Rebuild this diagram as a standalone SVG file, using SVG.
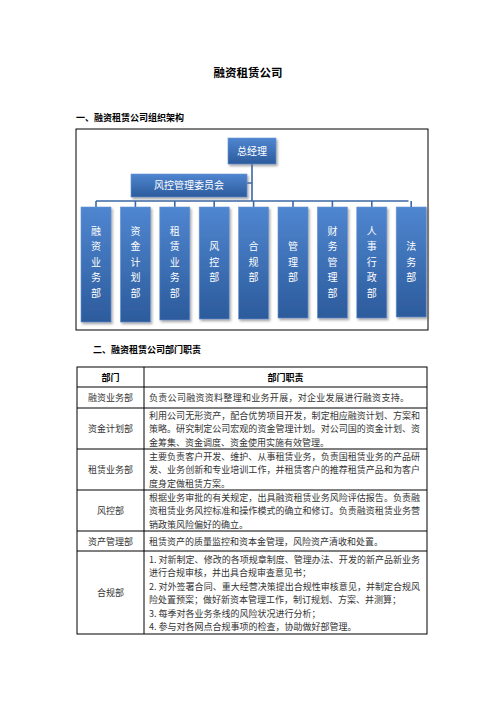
<svg xmlns="http://www.w3.org/2000/svg" width="496" height="702" viewBox="0 0 496 702">
<defs>
<linearGradient id="bg" x1="0" y1="0" x2="0" y2="1">
<stop offset="0" stop-color="#4f86d0"/>
<stop offset="1" stop-color="#2c5b9c"/>
</linearGradient>
<filter id="sh" x="-20%" y="-20%" width="150%" height="150%">
<feDropShadow dx="1.5" dy="2" stdDeviation="1.2" flood-color="#6a6a6a" flood-opacity="0.55"/>
</filter>
<style>
text{font-family:"Noto Sans CJK SC","Noto Sans",sans-serif;}
.box{fill:url(#bg);stroke:#6a95d4;stroke-width:0.6;filter:url(#sh);}
.bt{fill:#ffffff;font-size:10px;text-anchor:middle;}
.conn{stroke:#3b68a6;stroke-width:1.6;fill:none;}
.h{font-size:9px;font-weight:bold;fill:#000;}
.t{font-size:9px;fill:#333;}
.tc{font-size:9px;fill:#333;text-anchor:middle;}
.th{font-size:9px;font-weight:bold;fill:#000;text-anchor:middle;}
.grid{stroke:#000;stroke-width:1;fill:none;}
</style>
</defs>
<rect width="496" height="702" fill="#ffffff"/>
<text x="248" y="77" text-anchor="middle" style="font-size:11.5px;font-weight:bold">融资租赁公司</text>
<text class="h" x="76" y="121">一、融资租赁公司组织架构</text>
<rect x="76" y="129" width="352" height="201" fill="none" stroke="#000" stroke-width="1"/>
<g id="connectors">
<path class="conn" d="M252 164V201M247 183H252M96 201H408.5"/>
<path class="conn" d="M96 201V207M135.4 201V207M174.8 201V207M214.2 201V207M253.6 201V207M293 201V207M332.4 201V207M371.8 201V207M411.2 201V207"/>
</g>
<g id="n-zjl"><rect class="box" x="228" y="138" width="48" height="26"/><text class="bt" x="252" y="154.5">总经理</text></g>
<g id="n-fk"><rect class="box" x="131" y="174" width="116" height="23"/><text class="bt" x="189" y="189">风控管理委员会</text></g>
<g id="n1"><rect class="box" x="81" y="207" width="30" height="115"/><text class="bt"><tspan x="96" y="234.5">融</tspan><tspan x="96" y="250">资</tspan><tspan x="96" y="265.5">业</tspan><tspan x="96" y="281">务</tspan><tspan x="96" y="296.5">部</tspan></text></g>
<g id="n2"><rect class="box" x="120.4" y="207" width="30" height="115"/><text class="bt"><tspan x="135.4" y="234.5">资</tspan><tspan x="135.4" y="250">金</tspan><tspan x="135.4" y="265.5">计</tspan><tspan x="135.4" y="281">划</tspan><tspan x="135.4" y="296.5">部</tspan></text></g>
<g id="n3"><rect class="box" x="159.8" y="207" width="30" height="113"/><text class="bt"><tspan x="174.8" y="234.5">租</tspan><tspan x="174.8" y="250">赁</tspan><tspan x="174.8" y="265.5">业</tspan><tspan x="174.8" y="281">务</tspan><tspan x="174.8" y="296.5">部</tspan></text></g>
<g id="n4"><rect class="box" x="199.2" y="207" width="30" height="112"/><text class="bt"><tspan x="214.2" y="250">风</tspan><tspan x="214.2" y="265.5">控</tspan><tspan x="214.2" y="281">部</tspan></text></g>
<g id="n5"><rect class="box" x="238.6" y="207" width="30" height="112"/><text class="bt"><tspan x="253.6" y="250">合</tspan><tspan x="253.6" y="265.5">规</tspan><tspan x="253.6" y="281">部</tspan></text></g>
<g id="n6"><rect class="box" x="278" y="207" width="30" height="111"/><text class="bt"><tspan x="293" y="250">管</tspan><tspan x="293" y="265.5">理</tspan><tspan x="293" y="281">部</tspan></text></g>
<g id="n7"><rect class="box" x="317.4" y="207" width="30" height="111"/><text class="bt"><tspan x="332.4" y="234.5">财</tspan><tspan x="332.4" y="250">务</tspan><tspan x="332.4" y="265.5">管</tspan><tspan x="332.4" y="281">理</tspan><tspan x="332.4" y="296.5">部</tspan></text></g>
<g id="n8"><rect class="box" x="356.8" y="207" width="30" height="111"/><text class="bt"><tspan x="371.8" y="234.5">人</tspan><tspan x="371.8" y="250">事</tspan><tspan x="371.8" y="265.5">行</tspan><tspan x="371.8" y="281">政</tspan><tspan x="371.8" y="296.5">部</tspan></text></g>
<g id="n9"><rect class="box" x="396.2" y="207" width="30" height="110"/><text class="bt"><tspan x="411.2" y="250">法</tspan><tspan x="411.2" y="265.5">务</tspan><tspan x="411.2" y="281">部</tspan></text></g>

<text class="h" x="93" y="353">二、融资租赁公司部门职责</text>
<g id="table">
<rect class="grid" x="77" y="367" width="350" height="267"/>
<path class="grid" d="M144 367V634M77 387H427M77 408H427M77 449H427M77 490H427M77 531H427M77 551H427"/>
<text class="th" x="110.5" y="380.5">部门</text>
<text class="th" x="285.5" y="380.5">部门职责</text>
<text class="tc" x="110.5" y="401">融资业务部</text>
<text class="t" x="149" y="401" textLength="260">负责公司融资资料整理和业务开展，对企业发展进行融资支持。</text>
<text class="tc" x="110.5" y="432">资金计划部</text>
<text class="t" x="149" y="418.5" textLength="271">利用公司无形资产，配合优势项目开发，制定相应融资计划、方案和</text>
<text class="t" x="149" y="432" textLength="271">策略。研究制定公司宏观的资金管理计划。对公司国的资金计划、资</text>
<text class="t" x="149" y="445.5">金筹集、资金调度、资金使用实施有效管理。</text>
<text class="tc" x="110.5" y="473">租赁业务部</text>
<text class="t" x="149" y="459.5" textLength="271">主要负责客户开发、维护、从事租赁业务，负责国租赁业务的产品研</text>
<text class="t" x="149" y="473" textLength="271">发、业务创新和专业培训工作，并租赁客户的推荐租赁产品和为客户</text>
<text class="t" x="149" y="486.5">度身定做租赁方案。</text>
<text class="tc" x="110.5" y="514">风控部</text>
<text class="t" x="149" y="500.5" textLength="271">根据业务审批的有关规定，出具融资租赁业务风险评估报告。负责融</text>
<text class="t" x="149" y="514" textLength="271">资租赁业务风控标准和操作模式的确立和修订。负责融资租赁业务营</text>
<text class="t" x="149" y="527.5">销政策风险偏好的确立。</text>
<text class="tc" x="110.5" y="544.5">资产管理部</text>
<text class="t" x="149" y="544.5">租赁资产的质量监控和资本金管理，风险资产清收和处置。</text>
<text class="tc" x="110.5" y="596">合规部</text>
<text class="t" x="149" y="562.5" textLength="271">1. 对新制定、修改的各项规章制度、管理办法、开发的新产品新业务</text>
<text class="t" x="149" y="576">进行合规审核，并出具合规审查意见书；</text>
<text class="t" x="149" y="589.5" textLength="271">2. 对外签署合同、重大经营决策提出合规性审核意见，并制定合规风</text>
<text class="t" x="149" y="603">险处置预案；做好新资本管理工作，制订规划、方案、并测算；</text>
<text class="t" x="149" y="616.5">3. 每季对各业务条线的风险状况进行分析；</text>
<text class="t" x="149" y="630">4. 参与对各网点合规事项的检查，协助做好部管理。</text>
</g>
</svg>
